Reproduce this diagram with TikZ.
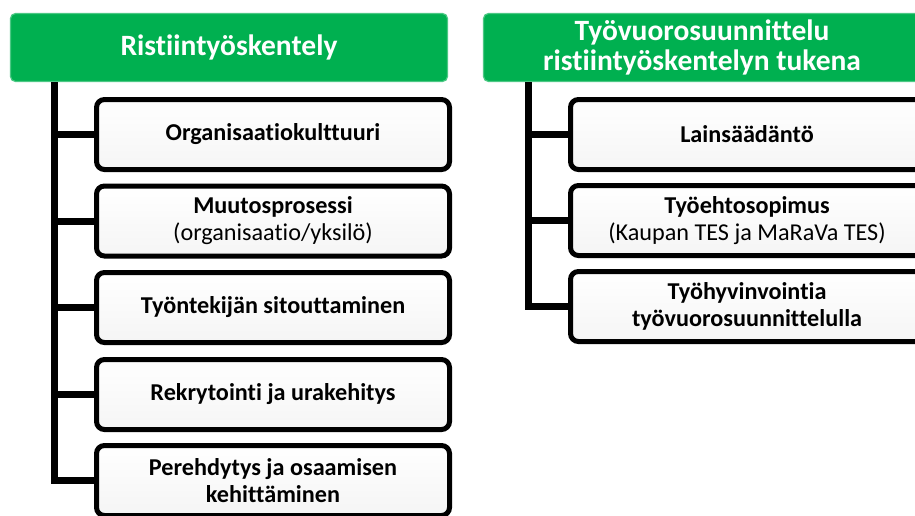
\documentclass[tikz,border=0pt]{standalone}
\usepackage{fontspec}
\setmainfont{Carlito}[Ligatures=NoCommon]
\begin{document}
\definecolor{hdrgreen}{HTML}{00B050}
\begin{tikzpicture}[x=1pt,y=-1pt,
  header/.style={rounded corners=5pt, fill=hdrgreen, draw=hdrgreen!70!white, line width=1.2pt,
    minimum width=437pt, minimum height=68pt, inner sep=0pt, text=white, align=center,
    font=\bfseries\fontsize{29.5}{30}\selectfont},
  itembox/.style={rounded corners=8pt, draw=black, line width=5pt, top color=white, bottom color=black!4,
    minimum width=353pt, minimum height=70pt, inner sep=0pt, align=center,
    font=\fontsize{24.2}{27}\selectfont},
  trunk/.style={line width=7pt, black}]
\useasboundingbox (0,0) rectangle (915,515);
\clip (0,0) rectangle (915,515);

% left column
\node[header] (hL) at (229,47.5) {Ristiintyöskentely};
\node[itembox] (l1) at (273,134.5) {\bfseries Organisaatiokulttuuri};
\node[itembox] (l2) at (273,221) {\bfseries Muutosprosessi\\(organisaatio/yksilö)};
\node[itembox] (l3) at (273,307.5) {\bfseries Työntekijän sitouttaminen};
\node[itembox] (l4) at (273,394.5) {\bfseries Rekrytointi ja urakehitys};
\node[itembox] (l5) at (273,480.5) {\bfseries Perehdytys ja osaamisen\\\bfseries kehittäminen};

\coordinate (tL) at (54,82);
\draw[trunk] (tL) |- (l5.west);
\foreach \b in {l1,l2,l3,l4}
  \draw[trunk] (tL |- \b.west) -- (\b.west);

% right column
\node[header] (hR) at (702,47.5) {Työvuorosuunnittelu\\ristiintyöskentelyn tukena};
\node[itembox] (r1) at (747,134.5) {\bfseries Lainsäädäntö};
\node[itembox] (r2) at (747,220.5) {\bfseries Työehtosopimus\\(Kaupan TES ja MaRaVa TES)};
\node[itembox] (r3) at (747,306.5) {\bfseries Työhyvinvointia\\\bfseries työvuorosuunnittelulla};

\coordinate (tR) at (528,82);
\draw[trunk] (tR) |- (r3.west);
\foreach \b in {r1,r2}
  \draw[trunk] (tR |- \b.west) -- (\b.west);
\end{tikzpicture}
\end{document}
